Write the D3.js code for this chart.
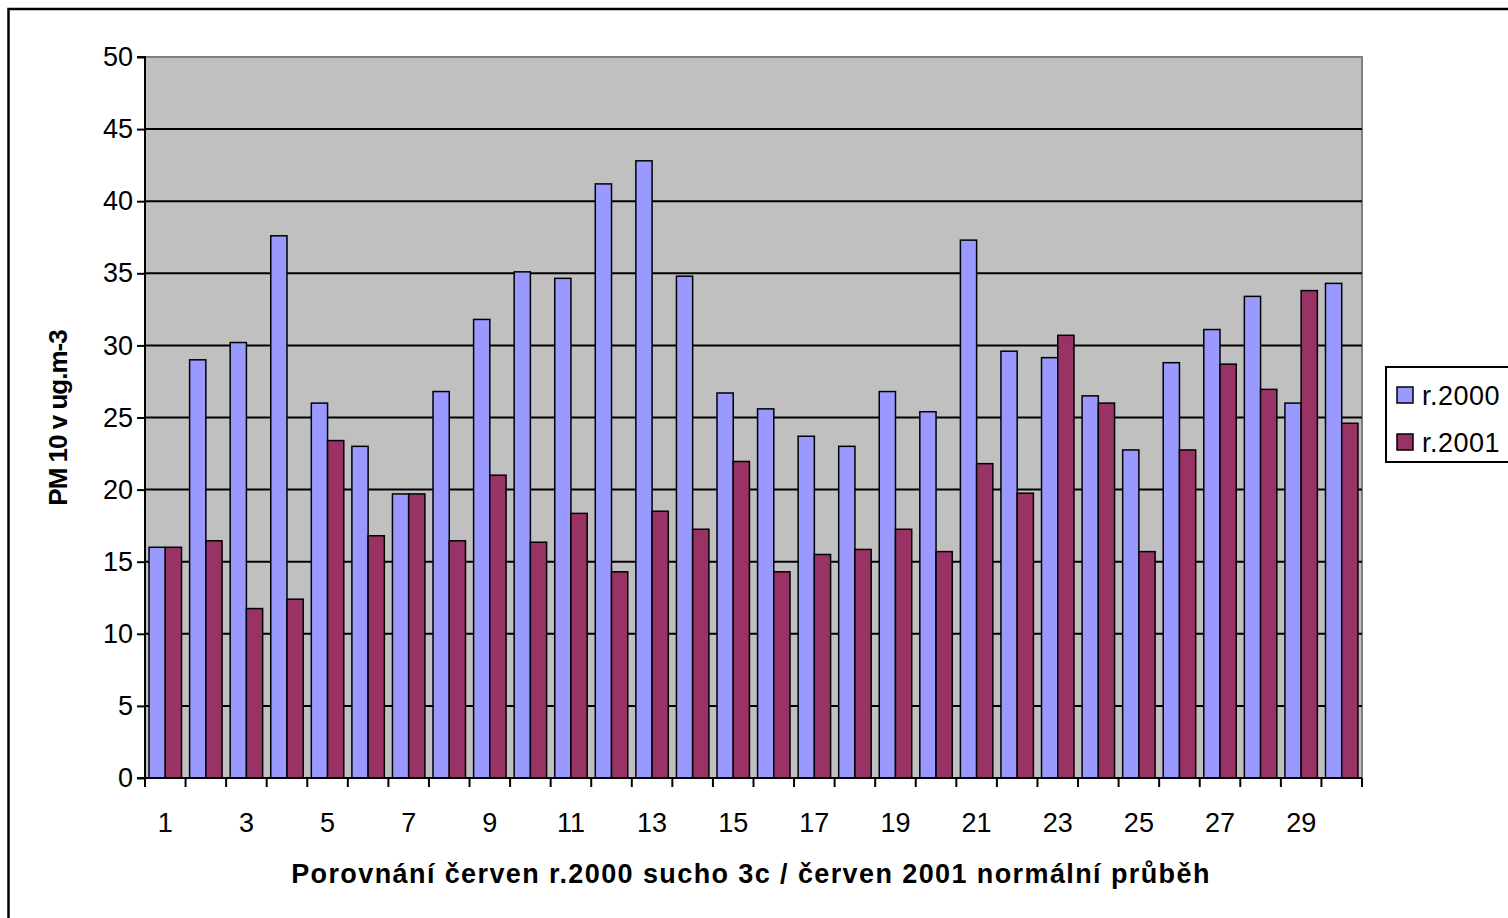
<!DOCTYPE html>
<html>
<head>
<meta charset="utf-8">
<script src="https://cdn.jsdelivr.net/npm/d3@7"></script>
<style>
  html, body { margin: 0; padding: 0; background: #fff; }
  svg { display: block; font-family: Arial, "Liberation Sans", sans-serif; }
</style>
</head>
<body>
<svg id="chart" width="1508" height="918"></svg>
<script>
const categories = d3.range(1, 31);
const seriesNames = ["r.2000", "r.2001"];
const values2000 = [16.0, 29.0, 30.2, 37.6, 26.0, 23.0, 19.7, 26.8, 31.8, 35.1,
                    34.65, 41.2, 42.8, 34.8, 26.7, 25.6, 23.7, 23.0, 26.8, 25.4,
                    37.3, 29.6, 29.15, 26.5, 22.75, 28.8, 31.1, 33.4, 26.0, 34.3];
const values2001 = [16.0, 16.45, 11.75, 12.4, 23.4, 16.8, 19.7, 16.45, 21.0, 16.35,
                    18.35, 14.3, 18.5, 17.25, 21.95, 14.3, 15.5, 15.85, 17.25, 15.7,
                    21.8, 19.75, 30.7, 26.0, 15.7, 22.75, 28.7, 26.95, 33.8, 24.6];
const yTicks = [0, 5, 10, 15, 20, 25, 30, 35, 40, 45, 50];
const xTickLabels = categories.filter(d => d % 2 === 1);
const yTitle = "PM 10 v ug.m-3";
const xTitle = "Porovnání červen r.2000 sucho 3c / červen 2001 normální průběh";
const colors = ["#9999FF", "#993366"];

const svg = d3.select("#chart");

// outer chart border
svg.append("rect").attr("x", 8.5).attr("y", 9).attr("width", 1530).attr("height", 940)
  .attr("fill", "none").attr("stroke", "#000").attr("stroke-width", 2.5);

const plot = { left: 145, right: 1362, top: 57, bottom: 778 };

const x = d3.scaleBand().domain(categories).range([plot.left, plot.right]).paddingInner(0).paddingOuter(0);
const inner = d3.scaleBand().domain(seriesNames).range([0, x.bandwidth()]).paddingInner(0).paddingOuter(0.25);
const y = d3.scaleLinear().domain([0, 50]).range([plot.bottom, plot.top]);

// plot background
svg.append("rect").attr("x", plot.left).attr("y", plot.top)
  .attr("width", plot.right - plot.left).attr("height", plot.bottom - plot.top)
  .attr("fill", "#C0C0C0").attr("stroke", "#808080").attr("stroke-width", 2);

// gridlines
svg.append("g").selectAll("line").data(yTicks.filter(d => d > 0 && d < 50)).join("line")
  .attr("x1", plot.left).attr("x2", plot.right)
  .attr("y1", d => y(d)).attr("y2", d => y(d))
  .attr("stroke", "#000").attr("stroke-width", 2);

// bars
const data = categories.map((c, i) => ({ c, vals: [values2000[i], values2001[i]] }));
const groups = svg.append("g").selectAll("g").data(data).join("g")
  .attr("transform", d => `translate(${x(d.c)},0)`);
groups.selectAll("rect").data(d => d.vals.map((v, j) => ({ name: seriesNames[j], v, j }))).join("rect")
  .attr("x", d => inner(d.name))
  .attr("width", inner.bandwidth())
  .attr("y", d => y(d.v))
  .attr("height", d => y(0) - y(d.v))
  .attr("fill", d => colors[d.j])
  .attr("stroke", "#000").attr("stroke-width", 1.5);

// y axis
const yAxis = d3.axisLeft(y).tickValues(yTicks).tickSize(8).tickPadding(4).tickFormat(d3.format("d"));
const gy = svg.append("g").attr("transform", `translate(${plot.left},0)`).call(yAxis);
gy.select(".domain").attr("stroke", "#000").attr("stroke-width", 2).attr("d", `M-8,${plot.top}H0V${plot.bottom}`);
gy.selectAll(".tick line").attr("stroke", "#000").attr("stroke-width", 2);
gy.selectAll(".tick text").attr("font-size", 27).attr("fill", "#000").attr("font-family", "Arial, 'Liberation Sans', sans-serif");

// x axis: ticks at band boundaries
const bx = svg.append("g");
bx.append("line").attr("x1", plot.left - 8).attr("x2", plot.right).attr("y1", plot.bottom).attr("y2", plot.bottom)
  .attr("stroke", "#000").attr("stroke-width", 2);
const boundaries = categories.map(c => x(c)).concat([x(categories[categories.length - 1]) + x.bandwidth()]);
bx.selectAll("line.tk").data(boundaries).join("line").attr("class", "tk")
  .attr("x1", d => d).attr("x2", d => d).attr("y1", plot.bottom).attr("y2", plot.bottom + 9)
  .attr("stroke", "#000").attr("stroke-width", 2);
bx.selectAll("text").data(xTickLabels).join("text")
  .attr("x", d => x(d) + x.bandwidth() / 2)
  .attr("y", 832)
  .attr("text-anchor", "middle")
  .attr("font-size", 27).attr("fill", "#000")
  .text(d => d);

// axis titles
svg.append("text").attr("x", 751).attr("y", 883).attr("text-anchor", "middle")
  .attr("font-size", 27).attr("font-weight", "bold").attr("letter-spacing", 1.4)
  .attr("fill", "#000").text(xTitle);
svg.append("text").attr("transform", "translate(67,418) rotate(-90)").attr("text-anchor", "middle")
  .attr("font-size", 26).attr("font-weight", "bold").attr("letter-spacing", -1)
  .attr("fill", "#000").text(yTitle);

// legend
const lg = svg.append("g");
lg.append("rect").attr("x", 1386).attr("y", 367).attr("width", 140).attr("height", 95)
  .attr("fill", "#fff").attr("stroke", "#000").attr("stroke-width", 2);
const li = lg.selectAll("g").data(seriesNames).join("g")
  .attr("transform", (d, i) => `translate(1397,${387 + i * 47})`);
li.append("rect").attr("width", 16).attr("height", 16)
  .attr("fill", (d, i) => colors[i]).attr("stroke", "#000").attr("stroke-width", 1.5);
li.append("text").attr("x", 25).attr("y", 18).attr("font-size", 27).attr("letter-spacing", 0.5)
  .attr("fill", "#000").text(d => d);
</script>
</body>
</html>
